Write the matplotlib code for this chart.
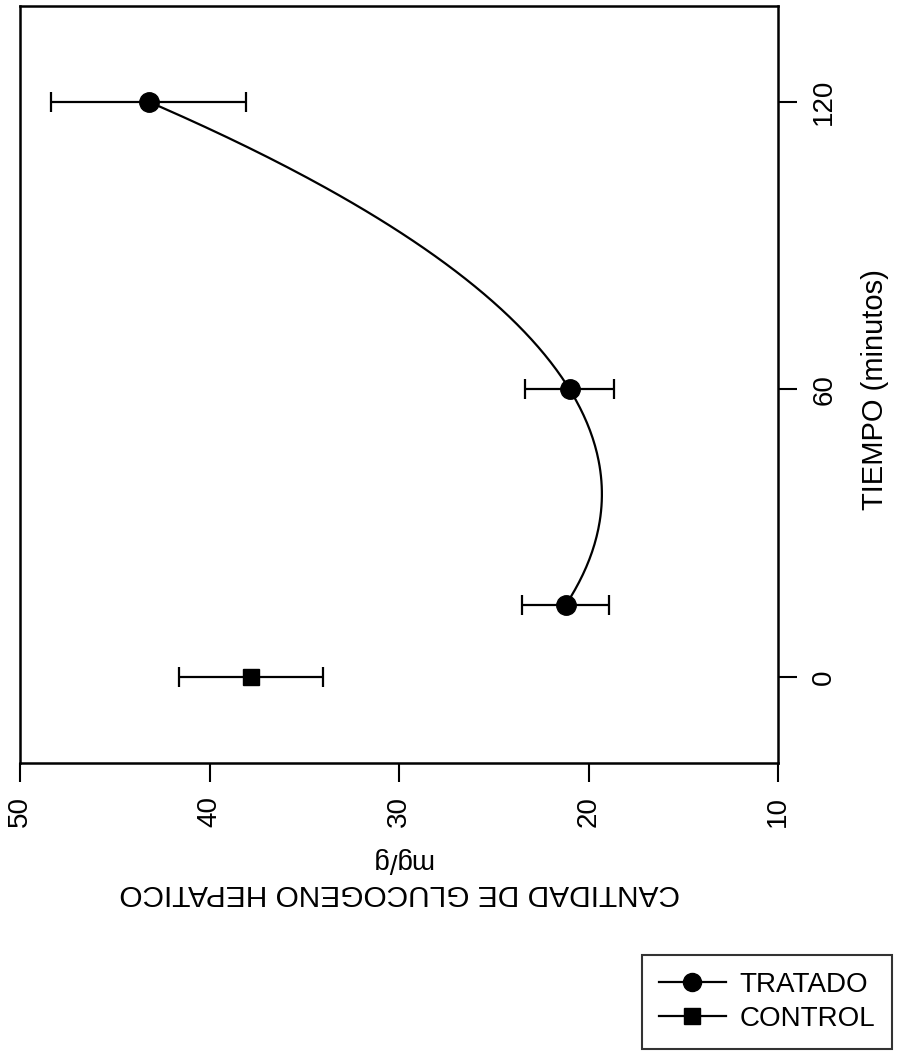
import numpy as np
import matplotlib
matplotlib.use("Agg")
import matplotlib.pyplot as plt
from matplotlib.lines import Line2D

plt.rcParams['font.family'] = ['Liberation Sans', 'DejaVu Sans']

# Data (time in minutes, hepatic glycogen in mg/g)
tratado_time = [15, 60, 120]
tratado_glyc = [21.2, 21.0, 43.2]
tratado_err = [2.3, 2.35, 5.15]

control_time = [0]
control_glyc = [37.8]
control_err = [3.8]

glyc_ticks = [50, 40, 30, 20, 10]
time_ticks = [0, 60, 120]

W, H = 905, 1054
fig = plt.figure(figsize=(W / 100, H / 100), dpi=100)
ax = fig.add_axes([20 / W, 1 - 763 / H, 758 / W, 757 / H])

# smooth curve through treated points
coef = np.polyfit(tratado_time, tratado_glyc, 2)
tt = np.linspace(min(tratado_time), max(tratado_time), 200)
ax.plot(np.polyval(coef, tt), tt, color='black', lw=1.6)

ax.errorbar(tratado_glyc, tratado_time, xerr=tratado_err, fmt='o', color='black',
            ms=14, capsize=7, elinewidth=1.6, capthick=1.6)
ax.errorbar(control_glyc, control_time, xerr=control_err, fmt='s', color='black',
            ms=12, capsize=7, elinewidth=1.6, capthick=1.6)

ax.set_xlim(50, 10)
ax.set_ylim(-18, 140)
ax.set_xticks(glyc_ticks)
ax.set_yticks(time_ticks)
ax.yaxis.tick_right()
ax.tick_params(axis='both', direction='out', length=14, width=1.5, labelsize=20, pad=10)
for lbl in ax.get_xticklabels() + ax.get_yticklabels():
    lbl.set_rotation(90)
for lbl in ax.get_xticklabels():
    lbl.set_va('top')
for lbl in ax.get_yticklabels():
    lbl.set_ha('left')
    lbl.set_va('center')
for s in ax.spines.values():
    s.set_linewidth(1.8)

fig.text(875 / W, 1 - 390 / H, 'TIEMPO (minutos)', rotation=90, ha='center', va='center', fontsize=21)
fig.text(401 / W, 1 - 860 / H, 'mg/g', rotation=180, ha='center', va='center', fontsize=20)
fig.text(400 / W, 1 - 893 / H, 'CANTIDAD DE GLUCOGENO HEPATICO', rotation=180,
         ha='center', va='center', fontsize=21.5)

handles = [Line2D([], [], color='black', marker='o', ms=13, lw=1.6),
           Line2D([], [], color='black', marker='s', ms=12, lw=1.6)]
leg = fig.legend(handles, ['TRATADO', 'CONTROL'], loc='upper right',
                 bbox_to_anchor=(892 / W, 1 - 955 / H), fontsize=20, frameon=True,
                 fancybox=False, edgecolor='black', handlelength=2.4, handletextpad=0.5,
                 borderpad=0.6, labelspacing=0.3, borderaxespad=0)
leg.get_frame().set_linewidth(1.5)

fig.savefig('out.png', dpi=100)
